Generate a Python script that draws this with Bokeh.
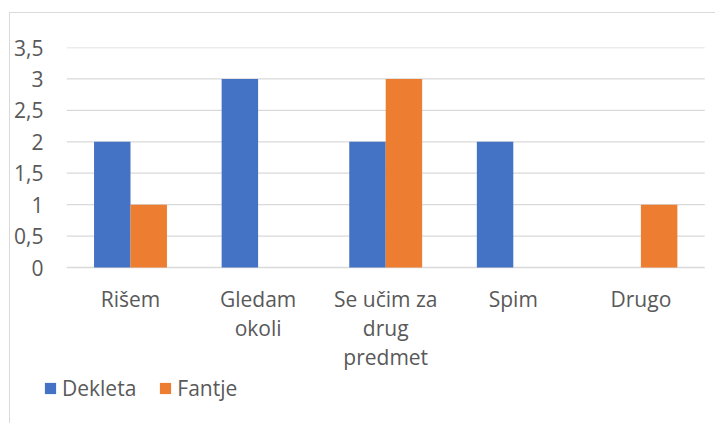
import numpy as np
from bokeh.plotting import figure
from bokeh.models import (Range1d, FixedTicker, CustomJSTickFormatter,
                          Legend, LegendItem, ColumnDataSource)
from bokeh.transform import dodge
from bokeh.core.properties import value
from bokeh.embed import file_html
from bokeh.resources import INLINE

categories = ["Rišem", "Gledam okoli", "Se učim za drug predmet", "Spim", "Drugo"]
label_lines = [["Rišem"], ["Gledam", "okoli"], ["Se učim za", "drug", "predmet"], ["Spim"], ["Drugo"]]
dekleta = [2, 3, 2, 2, 0]
fantje = [1, 0, 3, 0, 1]
series_names = ["Dekleta", "Fantje"]
y_ticks = [0, 0.5, 1, 1.5, 2, 2.5, 3, 3.5]

BLUE = "#4472C4"
ORANGE = "#ED7D31"
TEXT = "#595959"
GRID = "#D9D9D9"
FONT = "Open Sans"
FS = "21px"

# layout (pixels, canvas coordinates)
W, H = 706, 411
FRAME_LEFT = 33
CAT_LEFT, CAT_RIGHT = 56.2, 694.2
FRAME_TOP, ZERO_Y = 34, 254
PX_PER_UNIT = (ZERO_Y - FRAME_TOP) / 3.5
Y_MIN = -(H - ZERO_Y) / PX_PER_UNIT
N = len(categories)
PX_PER_CAT = (CAT_RIGHT - CAT_LEFT) / N
X_MIN = -(CAT_LEFT - FRAME_LEFT) / PX_PER_CAT
X_MAX = N + (W - CAT_RIGHT) / PX_PER_CAT
LINE0, LINE_STEP = 31, 29

xpos = list(np.arange(N) + 0.5)
src = ColumnDataSource(dict(x=xpos, dekleta=dekleta, fantje=fantje))

lab_x, lab_txt, lab_off = [], [], []
for xc, lines in zip(xpos, label_lines):
    for i, t in enumerate(lines):
        lab_x.append(xc)
        lab_txt.append(t)
        lab_off.append(LINE0 + i * LINE_STEP)
lab_src = ColumnDataSource(dict(x=lab_x, txt=lab_txt, off=lab_off, y=[0] * len(lab_x)))

p = figure(width=W, height=H, output_backend="svg", toolbar_location=None,
           x_range=Range1d(X_MIN, X_MAX), y_range=Range1d(Y_MIN, 3.5),
           min_border_left=FRAME_LEFT, min_border_right=0, min_border_top=FRAME_TOP,
           min_border_bottom=0)
p.outline_line_color = None
p.background_fill_color = "white"
p.border_fill_color = "white"
p.margin = (12, 0, 0, 9)
p.styles = {"border-top": "1.5px solid #D9D9D9", "border-left": "1.5px solid #D9D9D9"}

# gridlines (only across the category area)
p.xgrid.grid_line_color = None
p.ygrid.grid_line_color = None
p.segment(x0=[0] * len(y_ticks), x1=[N] * len(y_ticks), y0=y_ticks, y1=y_ticks,
          line_color=GRID, line_width=1.3)

bw = 1 / 3.5
r1 = p.vbar(x=dodge("x", -bw / 2), top="dekleta", width=bw,
            source=src, color=BLUE, line_color=None)
r2 = p.vbar(x=dodge("x", bw / 2), top="fantje", width=bw,
            source=src, color=ORANGE, line_color=None)

p.text(x="x", y="y", text="txt", y_offset="off", source=lab_src,
       text_font=value(FONT), text_font_size=FS, text_color=TEXT,
       text_align="center", text_baseline="alphabetic")

p.xaxis.visible = False

# y axis
p.yaxis.ticker = FixedTicker(ticks=y_ticks)
p.yaxis.formatter = CustomJSTickFormatter(code="return tick.toString().replace('.', ',');")
p.yaxis.axis_line_color = None
p.yaxis.major_tick_line_color = None
p.yaxis.minor_tick_line_color = None
p.yaxis.major_tick_out = 0
p.yaxis.major_tick_in = 0
p.yaxis.major_label_standoff = 0
p.yaxis.major_label_text_font = FONT
p.yaxis.major_label_text_font_size = FS
p.yaxis.major_label_text_color = TEXT

legend = Legend(items=[LegendItem(label=series_names[0], renderers=[r1]),
                       LegendItem(label=series_names[1], renderers=[r2])],
                orientation="horizontal", location=(0, 22),
                padding=0, margin=0, spacing=22, label_standoff=5,
                glyph_width=14, glyph_height=14,
                label_text_font=FONT, label_text_font_size=FS, label_text_color=TEXT,
                border_line_color=None, background_fill_alpha=0)
p.add_layout(legend, "center")

open("out.html", "w").write(file_html(p, INLINE))
